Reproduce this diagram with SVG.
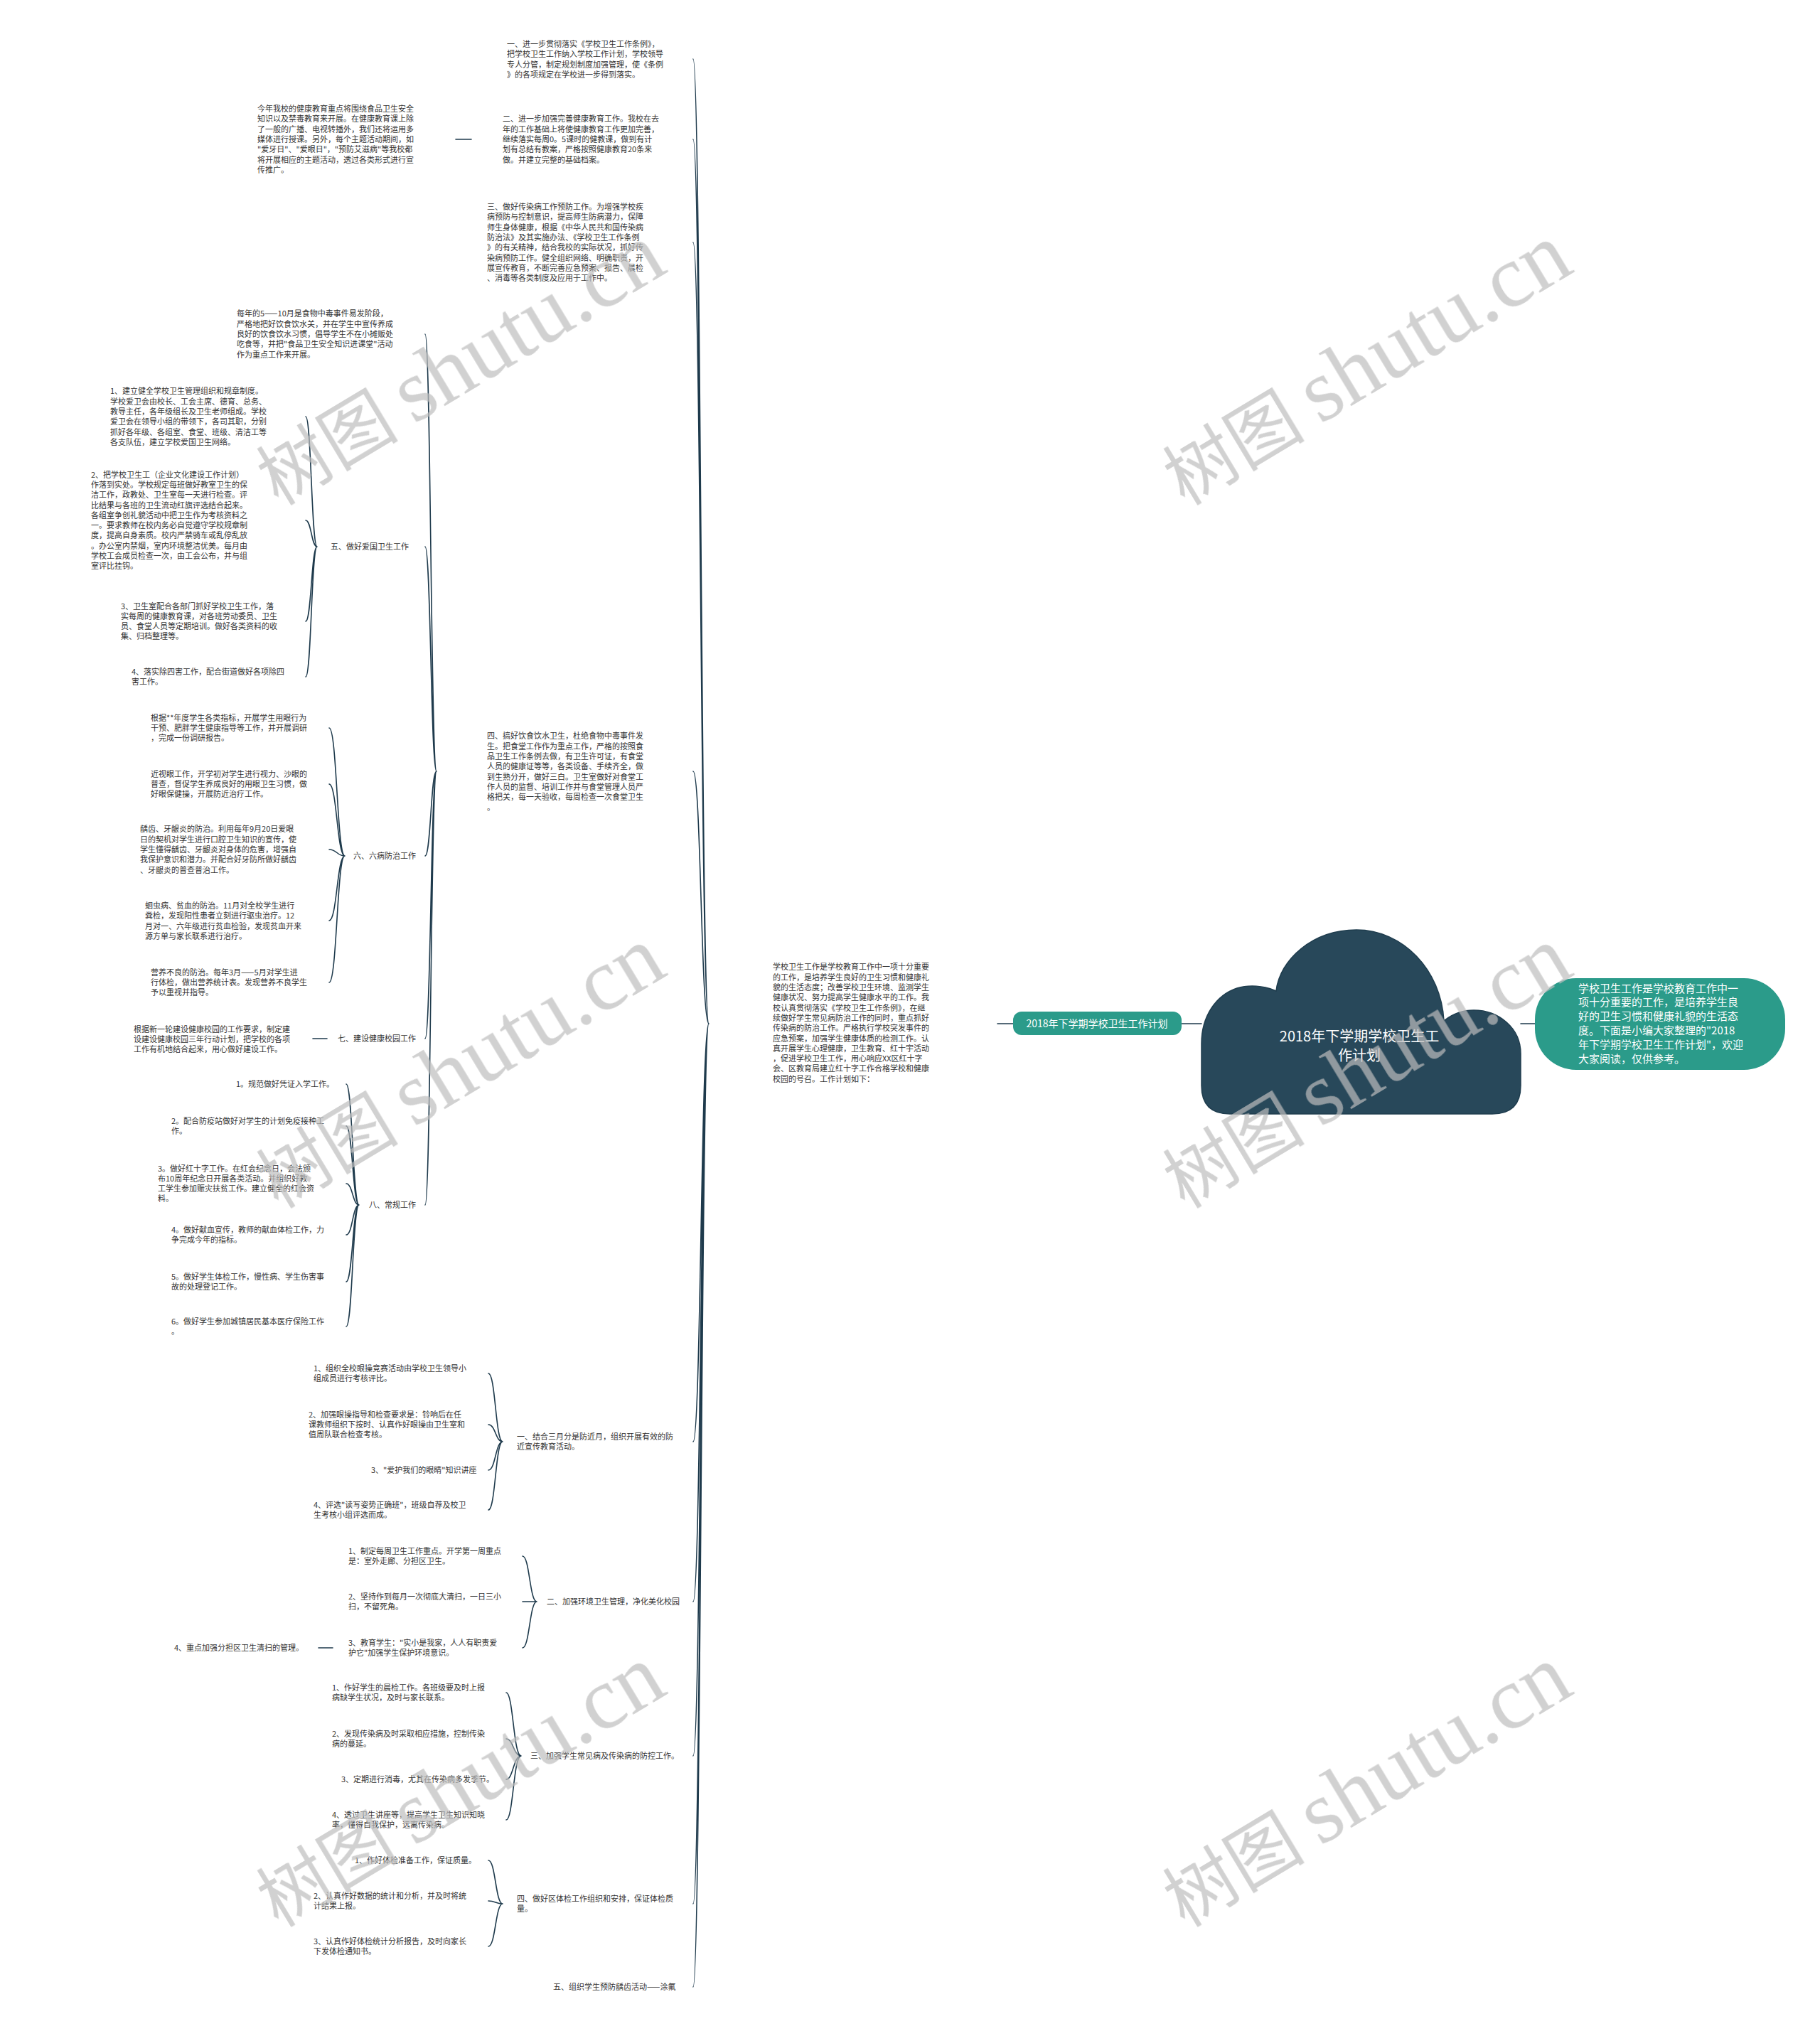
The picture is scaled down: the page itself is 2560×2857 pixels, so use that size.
<svg xmlns="http://www.w3.org/2000/svg" width="2560" height="2857" viewBox="0 0 2560 2857">
<style>
.t{font-family:"Noto Sans CJK SC","Noto Sans",sans-serif;font-size:11px;fill:#333333;}
.w{font-family:"Noto Sans CJK SC","Noto Sans",sans-serif;fill:#ffffff;}
.c{fill:none;stroke:#1e3a4c;stroke-width:1.6;stroke-linecap:round;}
.wm{fill:#bdbdbd;opacity:0.7;}
</style>
<rect x="0" y="0" width="2560" height="2857" fill="#ffffff"/>
<g id="connectors">
<path class="c" d="M1403,1440 L1425,1440 M1662,1440 L1690,1440 M2139,1440 L2159,1440"/>
<path class="c" d="M975,83 C986,83 986,1440 997,1440 M975,196 C986,196 986,1440 997,1440 M975,341 C986,341 986,1440 997,1440 M975,1085 C986,1085 986,1440 997,1440 M975,2028 C986,2028 986,1440 997,1440 M975,2253 C986,2253 986,1440 997,1440 M975,2470 C986,2470 986,1440 997,1440 M975,2678 C986,2678 986,1440 997,1440 M975,2795 C986,2795 986,1440 997,1440"/>
<path class="c" d="M641,196 L663,196"/>
<path class="c" d="M598,470 C606,470 606,1085 614,1085 M598,769 C606,769 606,1085 614,1085 M598,1204 C606,1204 606,1085 614,1085 M598,1461 C606,1461 606,1085 614,1085 M598,1695 C606,1695 606,1085 614,1085"/>
<path class="c" d="M430,586 C438,586 438,769 446,769 M430,732 C438,732 438,769 446,769 M430,874 C438,874 438,769 446,769 M430,952 C438,952 438,769 446,769"/>
<path class="c" d="M463,1024 C474,1024 474,1204 485,1204 M463,1103 C474,1103 474,1204 485,1204 M463,1195 C474,1195 474,1204 485,1204 M463,1295 C474,1295 474,1204 485,1204 M463,1382 C474,1382 474,1204 485,1204"/>
<path class="c" d="M440,1461 L460,1461"/>
<path class="c" d="M487,1525 C496,1525 496,1695 505,1695 M487,1584 C496,1584 496,1695 505,1695 M487,1665 C496,1665 496,1695 505,1695 M487,1737 C496,1737 496,1695 505,1695 M487,1803 C496,1803 496,1695 505,1695 M487,1866 C496,1866 496,1695 505,1695"/>
<path class="c" d="M687,1932 C697,1932 697,2028 707,2028 M687,2004 C697,2004 697,2028 707,2028 M687,2068 C697,2068 697,2028 707,2028 M687,2124 C697,2124 697,2028 707,2028"/>
<path class="c" d="M735,2189 C745,2189 745,2253 755,2253 M735,2253 L755,2253 M735,2318 C745,2318 745,2253 755,2253"/>
<path class="c" d="M448,2318 L468,2318"/>
<path class="c" d="M712,2381 C722,2381 722,2470 733,2470 M712,2446 C722,2446 722,2470 733,2470 M712,2503 C722,2503 722,2470 733,2470 M712,2560 C722,2560 722,2470 733,2470"/>
<path class="c" d="M687,2617 C697,2617 697,2678 707,2678 M687,2674 C697,2674 697,2678 707,2678 M687,2738 C697,2738 697,2678 707,2678"/>
</g>
<g id="root">
<path d="M1795,1394 C1778,1386 1756,1385 1740,1390 C1710,1400 1690,1430 1690,1468 L1690,1527 Q1690,1567 1730,1567 L2099,1567 Q2139,1567 2139,1527 L2139,1482 C2139,1446 2108,1421 2073,1421 C2056,1421 2042,1427 2031,1436 C2027,1364 1973,1308 1908,1308 C1846,1308 1800,1350 1795,1394 Z" fill="#28485a" stroke="#1f3d4e" stroke-width="1.5"/>
<text class="w" font-size="20" text-anchor="middle"><tspan x="1912" y="1465">2018年下学期学校卫生工</tspan><tspan x="1912" y="1492">作计划</tspan></text>
</g>
<g id="intro">
<rect x="2159" y="1376" width="352" height="129" rx="58" ry="58" fill="#2b9b8a"/>
<text class="w" font-size="15"><tspan x="2220" y="1395.5">学校卫生工作是学校教育工作中一</tspan><tspan x="2220" y="1415.3">项十分重要的工作，是培养学生良</tspan><tspan x="2220" y="1435.1">好的卫生习惯和健康礼貌的生活态</tspan><tspan x="2220" y="1454.9">度。下面是小编大家整理的"2018</tspan><tspan x="2220" y="1474.7">年下学期学校卫生工作计划"，欢迎</tspan><tspan x="2220" y="1494.5">大家阅读，仅供参考。</tspan></text>
</g>
<g id="title-left">
<rect x="1425" y="1423" width="237" height="33" rx="12" ry="12" fill="#2b9b8a"/>
<text class="w" font-size="14" text-anchor="middle" x="1543" y="1445">2018年下学期学校卫生工作计划</text>
</g>
<g id="summary">
<text class="t"><tspan x="1087" y="1364.4">学校卫生工作是学校教育工作中一项十分重要</tspan><tspan x="1087" y="1378.7">的工作，是培养学生良好的卫生习惯和健康礼</tspan><tspan x="1087" y="1393">貌的生活态度；改善学校卫生环境、监测学生</tspan><tspan x="1087" y="1407.3">健康状况、努力提高学生健康水平的工作。我</tspan><tspan x="1087" y="1421.6">校认真贯彻落实《学校卫生工作条例》，在继</tspan><tspan x="1087" y="1435.9">续做好学生常见病防治工作的同时，重点抓好</tspan><tspan x="1087" y="1450.2">传染病的防治工作。严格执行学校突发事件的</tspan><tspan x="1087" y="1464.5">应急预案，加强学生健康体质的检测工作。认</tspan><tspan x="1087" y="1478.8">真开展学生心理健康，卫生教育、红十宇活动</tspan><tspan x="1087" y="1493.1">，促进学校卫生工作，用心响应XX区红十字</tspan><tspan x="1087" y="1507.4">会、区教育局建立红十字工作合格学校和健康</tspan><tspan x="1087" y="1521.7">校园的号召。工作计划如下：</tspan></text>
</g>
<g id="p1">
<text class="t"><tspan x="713" y="66">一、进一步贯彻落实《学校卫生工作条例》，</tspan><tspan x="713" y="80.3">把学校卫生工作纳入学校工作计划，学校领导</tspan><tspan x="713" y="94.6">专人分管，制定规划制度加强管理，使《条例</tspan><tspan x="713" y="108.9">》的各项规定在学校进一步得到落实。</tspan></text>
</g>
<g id="p2">
<text class="t"><tspan x="707" y="171.4">二、进一步加强完善健康教育工作。我校在去</tspan><tspan x="707" y="185.7">年的工作基础上将使健康教育工作更加完善，</tspan><tspan x="707" y="200">继续落实每周0。5课时的健教课，做到有计</tspan><tspan x="707" y="214.3">划有总结有教案，严格按照健康教育20条来</tspan><tspan x="707" y="228.6">做。并建立完整的基础档案。</tspan></text>
</g>
<g id="p2-1">
<text class="t"><tspan x="362" y="157.1">今年我校的健康教育重点将围绕食品卫生安全</tspan><tspan x="362" y="171.4">知识以及禁毒教育来开展。在健康教育课上除</tspan><tspan x="362" y="185.7">了一般的广播、电视转播外，我们还将运用多</tspan><tspan x="362" y="200">媒体进行授课。另外，每个主题活动期间，如</tspan><tspan x="362" y="214.3">"爱牙日"、"爱眼日"，"预防艾滋病"等我校都</tspan><tspan x="362" y="228.6">将开展相应的主题活动，透过各类形式进行宣</tspan><tspan x="362" y="242.9">传推广。</tspan></text>
</g>
<g id="p3">
<text class="t"><tspan x="685" y="295">三、做好传染病工作预防工作。为增强学校疾</tspan><tspan x="685" y="309.3">病预防与控制意识，提高师生防病潜力，保障</tspan><tspan x="685" y="323.6">师生身体健康，根据《中华人民共和国传染病</tspan><tspan x="685" y="337.9">防治法》及其实施办法、《学校卫生工作条例</tspan><tspan x="685" y="352.2">》的有关精神，结合我校的实际状况，抓好传</tspan><tspan x="685" y="366.5">染病预防工作。健全组织网络、明确职责，开</tspan><tspan x="685" y="380.8">展宣传教育，不断完善应急预案、报告、晨检</tspan><tspan x="685" y="395.1">、消毒等各类制度及应用于工作中。</tspan></text>
</g>
<g id="p4">
<text class="t"><tspan x="685" y="1039.4">四、搞好饮食饮水卫生，杜绝食物中毒事件发</tspan><tspan x="685" y="1053.7">生。把食堂工作作为重点工作，严格的按照食</tspan><tspan x="685" y="1068">品卫生工作条例去做，有卫生许可证，有食堂</tspan><tspan x="685" y="1082.3">人员的健康证等等，各类设备、手续齐全，做</tspan><tspan x="685" y="1096.6">到生熟分开，做好三白。卫生室做好对食堂工</tspan><tspan x="685" y="1110.9">作人员的监督、培训工作并与食堂管理人员严</tspan><tspan x="685" y="1125.2">格把关，每一天验收，每周检查一次食堂卫生</tspan><tspan x="685" y="1139.5">。</tspan></text>
</g>
<g id="p4-1">
<text class="t"><tspan x="333" y="445.4">每年的5——10月是食物中毒事件易发阶段，</tspan><tspan x="333" y="459.7">严格地把好饮食饮水关，并在学生中宣传养成</tspan><tspan x="333" y="474">良好的饮食饮水习惯，倡导学生不在小摊贩处</tspan><tspan x="333" y="488.3">吃食等，并把"食品卫生安全知识进课堂"活动</tspan><tspan x="333" y="502.6">作为重点工作来开展。</tspan></text>
</g>
<g id="p5">
<text class="t" x="465" y="773">五、做好爱国卫生工作</text>
</g>
<g id="p5-1">
<text class="t"><tspan x="155" y="554.3">1、建立健全学校卫生管理组织和规章制度。</tspan><tspan x="155" y="568.6">学校爱卫会由校长、工会主席、德育、总务、</tspan><tspan x="155" y="582.9">教导主任，各年级组长及卫生老师组成。学校</tspan><tspan x="155" y="597.2">爱卫会在领导小组的带领下，各司其职，分别</tspan><tspan x="155" y="611.5">抓好各年级、各组室、食堂、班级、清洁工等</tspan><tspan x="155" y="625.8">各支队伍，建立学校爱国卫生网络。</tspan></text>
</g>
<g id="p5-2">
<text class="t"><tspan x="128" y="671.6">2、把学校卫生工（企业文化建设工作计划）</tspan><tspan x="128" y="685.9">作落到实处。学校规定每班做好教室卫生的保</tspan><tspan x="128" y="700.2">洁工作，政教处、卫生室每一天进行检查。评</tspan><tspan x="128" y="714.5">比结果与各班的卫生流动红旗评选结合起来。</tspan><tspan x="128" y="728.8">各组室争创礼貌活动中把卫生作为考核资料之</tspan><tspan x="128" y="743.1">一。要求教师在校内务必自觉遵守学校规章制</tspan><tspan x="128" y="757.4">度，提高自身素质。校内严禁骑车或乱停乱放</tspan><tspan x="128" y="771.7">。办公室内禁烟，室内环境整洁优美。每月由</tspan><tspan x="128" y="786">学校工会成员检查一次，由工会公布，并与组</tspan><tspan x="128" y="800.3">室评比挂钩。</tspan></text>
</g>
<g id="p5-3">
<text class="t"><tspan x="170" y="856.5">3、卫生室配合各部门抓好学校卫生工作，落</tspan><tspan x="170" y="870.8">实每周的健康教育课，对各班劳动委员、卫生</tspan><tspan x="170" y="885.1">员、食堂人员等定期培训。做好各类资料的收</tspan><tspan x="170" y="899.4">集、归档整理等。</tspan></text>
</g>
<g id="p5-4">
<text class="t"><tspan x="185" y="948.9">4、落实除四害工作，配合街道做好各项除四</tspan><tspan x="185" y="963.2">害工作。</tspan></text>
</g>
<g id="p6">
<text class="t" x="497" y="1208">六、六病防治工作</text>
</g>
<g id="p6-1">
<text class="t"><tspan x="212" y="1013.7">根据**年度学生各类指标，开展学生用眼行为</tspan><tspan x="212" y="1028">干预、肥胖学生健康指导等工作，并开展调研</tspan><tspan x="212" y="1042.3">，完成一份调研报告。</tspan></text>
</g>
<g id="p6-2">
<text class="t"><tspan x="212" y="1092.7">近视眼工作，开学初对学生进行视力、沙眼的</tspan><tspan x="212" y="1107">普查，督促学生养成良好的用眼卫生习惯，做</tspan><tspan x="212" y="1121.3">好眼保健操，开展防近治疗工作。</tspan></text>
</g>
<g id="p6-3">
<text class="t"><tspan x="197" y="1170.4">龋齿、牙龈炎的防治。利用每年9月20日爱眼</tspan><tspan x="197" y="1184.7">日的契机对学生进行口腔卫生知识的宣传，使</tspan><tspan x="197" y="1199">学生懂得龋齿、牙龈炎对身体的危害，增强自</tspan><tspan x="197" y="1213.3">我保护意识和潜力。并配合好牙防所做好龋齿</tspan><tspan x="197" y="1227.6">、牙龈炎的普查普治工作。</tspan></text>
</g>
<g id="p6-4">
<text class="t"><tspan x="204" y="1278">蛔虫病、贫血的防治。11月对全校学生进行</tspan><tspan x="204" y="1292.3">粪检，发现阳性患者立刻进行驱虫治疗。12</tspan><tspan x="204" y="1306.6">月对一、六年级进行贫血检验，发现贫血开来</tspan><tspan x="204" y="1320.9">源方单与家长联系进行治疗。</tspan></text>
</g>
<g id="p6-5">
<text class="t"><tspan x="212" y="1371.7">营养不良的防治。每年3月——5月对学生进</tspan><tspan x="212" y="1386">行体检，做出营养统计表。发现营养不良学生</tspan><tspan x="212" y="1400.3">予以重视并指导。</tspan></text>
</g>
<g id="p7">
<text class="t" x="475" y="1465">七、建设健康校园工作</text>
</g>
<g id="p7-1">
<text class="t"><tspan x="188" y="1451.7">根据新一轮建设健康校园的工作要求，制定建</tspan><tspan x="188" y="1466">设建设健康校园三年行动计划，把学校的各项</tspan><tspan x="188" y="1480.3">工作有机地结合起来，用心做好建设工作。</tspan></text>
</g>
<g id="p8">
<text class="t" x="519" y="1699">八、常规工作</text>
</g>
<g id="p8-1"><text class="t" x="332" y="1529">1。规范做好凭证入学工作。</text></g>
<g id="p8-2"><text class="t"><tspan x="241" y="1580.9">2。配合防疫站做好对学生的计划免疫接种工</tspan><tspan x="241" y="1595.2">作。</tspan></text></g>
<g id="p8-3"><text class="t"><tspan x="222" y="1647.5">3。做好红十字工作。在红会纪念日，会法颁</tspan><tspan x="222" y="1661.8">布10周年纪念日开展各类活动。并组织好教</tspan><tspan x="222" y="1676.1">工学生参加赈灾扶贫工作。建立健全的红会资</tspan><tspan x="222" y="1690.4">料。</tspan></text></g>
<g id="p8-4"><text class="t"><tspan x="241" y="1733.9">4。做好献血宣传，教师的献血体检工作，力</tspan><tspan x="241" y="1748.2">争完成今年的指标。</tspan></text></g>
<g id="p8-5"><text class="t"><tspan x="241" y="1799.9">5。做好学生体检工作，慢性病、学生伤害事</tspan><tspan x="241" y="1814.2">故的处理登记工作。</tspan></text></g>
<g id="p8-6"><text class="t"><tspan x="241" y="1862.9">6。做好学生参加城镇居民基本医疗保险工作</tspan><tspan x="241" y="1877.2">。</tspan></text></g>
<g id="b1"><text class="t"><tspan x="727" y="2024.9">一、结合三月分是防近月，组织开展有效的防</tspan><tspan x="727" y="2039.2">近宣传教育活动。</tspan></text></g>
<g id="b1-1"><text class="t"><tspan x="441" y="1928.9">1、组织全校眼操竞赛活动由学校卫生领导小</tspan><tspan x="441" y="1943.2">组成员进行考核评比。</tspan></text></g>
<g id="b1-2"><text class="t"><tspan x="434" y="1993.7">2、加强眼操指导和检查要求是：铃响后在任</tspan><tspan x="434" y="2008">课教师组织下按时、认真作好眼操由卫生室和</tspan><tspan x="434" y="2022.3">值周队联合检查考核。</tspan></text></g>
<g id="b1-3"><text class="t" x="522" y="2072">3、"爱护我们的眼睛"知识讲座</text></g>
<g id="b1-4"><text class="t"><tspan x="441" y="2120.9">4、评选"读写姿势正确班"，班级自荐及校卫</tspan><tspan x="441" y="2135.2">生考核小组评选而成。</tspan></text></g>
<g id="b2"><text class="t" x="769" y="2257">二、加强环境卫生管理，净化美化校园</text></g>
<g id="b2-1"><text class="t"><tspan x="490" y="2185.9">1、制定每周卫生工作重点。开学第一周重点</tspan><tspan x="490" y="2200.2">是：室外走廊、分担区卫生。</tspan></text></g>
<g id="b2-2"><text class="t"><tspan x="490" y="2249.9">2、坚持作到每月一次彻底大清扫，一日三小</tspan><tspan x="490" y="2264.2">扫，不留死角。</tspan></text></g>
<g id="b2-3"><text class="t"><tspan x="490" y="2314.9">3、教育学生："实小是我家，人人有职责爱</tspan><tspan x="490" y="2329.2">护它"加强学生保护环境意识。</tspan></text></g>
<g id="b2-3-1"><text class="t" x="245" y="2322">4、重点加强分担区卫生清扫的管理。</text></g>
<g id="b3"><text class="t" x="746" y="2474">三、加强学生常见病及传染病的防控工作。</text></g>
<g id="b3-1"><text class="t"><tspan x="467" y="2377.9">1、作好学生的晨检工作。各班级要及时上报</tspan><tspan x="467" y="2392.2">病缺学生状况，及时与家长联系。</tspan></text></g>
<g id="b3-2"><text class="t"><tspan x="467" y="2442.9">2、发现传染病及时采取相应措施，控制传染</tspan><tspan x="467" y="2457.2">病的蔓延。</tspan></text></g>
<g id="b3-3"><text class="t" x="480" y="2507">3、定期进行消毒，尤其在传染病多发季节。</text></g>
<g id="b3-4"><text class="t"><tspan x="467" y="2556.9">4、透过卫生讲座等，提高学生卫生知识知晓</tspan><tspan x="467" y="2571.2">率，懂得自我保护，远离传染病。</tspan></text></g>
<g id="b4"><text class="t"><tspan x="727" y="2674.9">四、做好区体检工作组织和安排，保证体检质</tspan><tspan x="727" y="2689.2">量。</tspan></text></g>
<g id="b4-1"><text class="t" x="499" y="2621">1、作好体检准备工作，保证质量。</text></g>
<g id="b4-2"><text class="t"><tspan x="441" y="2670.9">2、认真作好数据的统计和分析，并及时将统</tspan><tspan x="441" y="2685.2">计结果上报。</tspan></text></g>
<g id="b4-3"><text class="t"><tspan x="441" y="2734.9">3、认真作好体检统计分析报告，及时向家长</tspan><tspan x="441" y="2749.2">下发体检通知书。</tspan></text></g>
<g id="b5"><text class="t" x="778" y="2799">五、组织学生预防龋齿活动——涂氟</text></g>
<g id="watermarks" class="wm">
<text transform="translate(647,514) rotate(-31)" text-anchor="middle" y="38"><tspan font-family="Noto Sans CJK SC, sans-serif" font-size="100">树图 </tspan><tspan font-family="Liberation Serif, serif" font-size="125">shutu.cn</tspan></text>
<text transform="translate(1922,514) rotate(-31)" text-anchor="middle" y="38"><tspan font-family="Noto Sans CJK SC, sans-serif" font-size="100">树图 </tspan><tspan font-family="Liberation Serif, serif" font-size="125">shutu.cn</tspan></text>
<text transform="translate(647,1503) rotate(-31)" text-anchor="middle" y="38"><tspan font-family="Noto Sans CJK SC, sans-serif" font-size="100">树图 </tspan><tspan font-family="Liberation Serif, serif" font-size="125">shutu.cn</tspan></text>
<text transform="translate(1922,1503) rotate(-31)" text-anchor="middle" y="38"><tspan font-family="Noto Sans CJK SC, sans-serif" font-size="100">树图 </tspan><tspan font-family="Liberation Serif, serif" font-size="125">shutu.cn</tspan></text>
<text transform="translate(647,2514) rotate(-31)" text-anchor="middle" y="38"><tspan font-family="Noto Sans CJK SC, sans-serif" font-size="100">树图 </tspan><tspan font-family="Liberation Serif, serif" font-size="125">shutu.cn</tspan></text>
<text transform="translate(1922,2514) rotate(-31)" text-anchor="middle" y="38"><tspan font-family="Noto Sans CJK SC, sans-serif" font-size="100">树图 </tspan><tspan font-family="Liberation Serif, serif" font-size="125">shutu.cn</tspan></text>
</g>
</svg>
